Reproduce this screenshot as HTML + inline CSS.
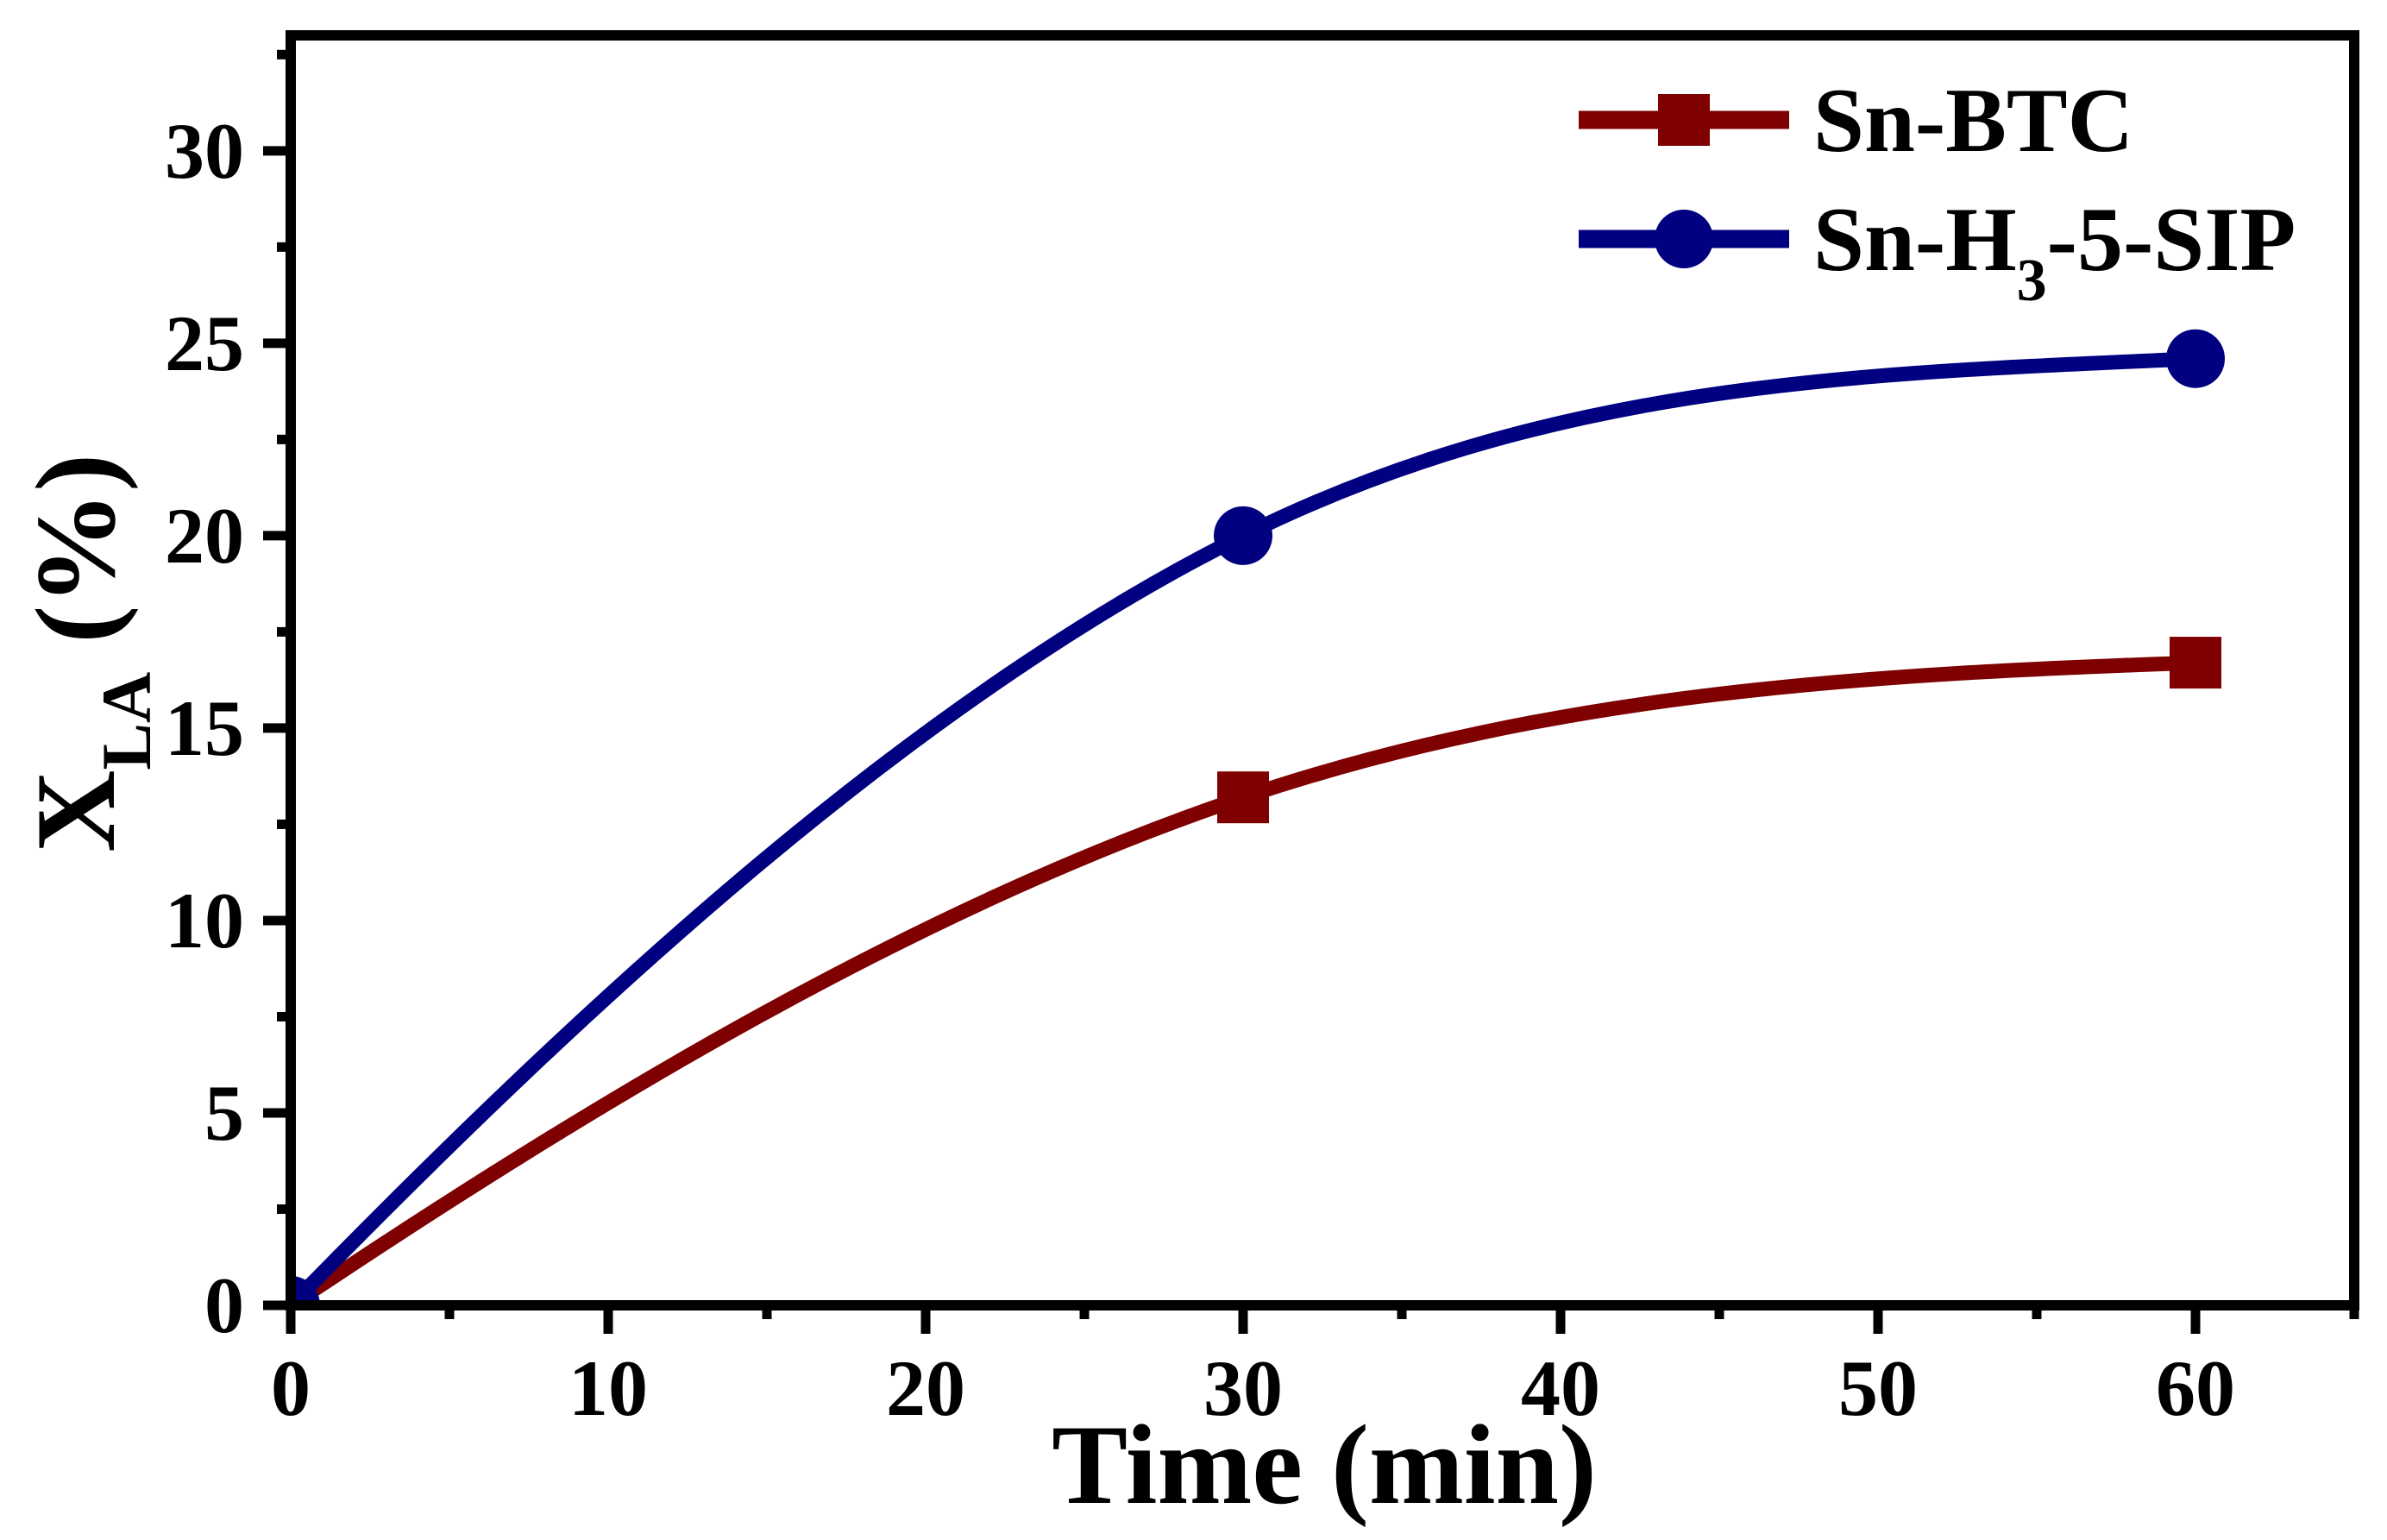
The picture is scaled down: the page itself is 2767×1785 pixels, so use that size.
<!DOCTYPE html>
<html><head><meta charset="utf-8"><style>
html,body{margin:0;padding:0;background:#fff}
svg{display:block}
text{font-family:"Liberation Serif","Times New Roman",serif;font-weight:bold;fill:#000}
</style></head><body>
<svg id="chart" width="2767" height="1785" viewBox="0 0 2767 1785" xmlns="http://www.w3.org/2000/svg">
<defs><clipPath id="plotclip"><rect x="343" y="47" width="2383" height="1460"/></clipPath></defs>
<g id="grid"></g>
<g id="series" clip-path="url(#plotclip)"></g>
<g id="axes"></g>
<text x="1535" y="1742" font-size="132" text-anchor="middle">Time (min)</text>
<text transform="translate(132,988) rotate(-90)" font-size="132">X<tspan font-size="82" dy="42">LA</tspan><tspan dy="-42"> (%)</tspan></text>
<g>
  <line x1="1830" y1="139" x2="2074" y2="139" stroke="#7f0000" stroke-width="21"/>
  <rect x="1922" y="109" width="60" height="60" fill="#7f0000"/>
  <text x="2102" y="175" font-size="106">Sn-BTC</text>
  <line x1="1830" y1="277" x2="2074" y2="277" stroke="#000080" stroke-width="21"/>
  <circle cx="1952" cy="277" r="34" fill="#000080"/>
  <text x="2102" y="313" font-size="106">Sn-H<tspan font-size="70" dy="35">3</tspan><tspan dy="-35">-5-SIP</tspan></text>
</g>
</svg>
<script>
const timeMin = [0, 30, 60];
const snBtc = [0, 13.2, 16.7];
const snSip = [0, 20.0, 24.6];
const xTicks = [0, 10, 20, 30, 40, 50, 60];
const yTicks = [0, 5, 10, 15, 20, 25, 30];

const NS = "http://www.w3.org/2000/svg";
const X0 = 337, X1 = 2729, XMIN = 0, XMAX = 65;
const Y0 = 1513, Y1 = 41, YMIN = 0, YMAX = 33;
function xs(v){ return X0 + (v - XMIN) / (XMAX - XMIN) * (X1 - X0); }
function ys(v){ return Y0 - (v - YMIN) / (YMAX - YMIN) * (Y0 - Y1); }
function mk(tag, attrs, parent){ const e = document.createElementNS(NS, tag); for (const k in attrs) e.setAttribute(k, attrs[k]); parent.appendChild(e); return e; }

const axes = document.getElementById('axes');
const series = document.getElementById('series');

const frame = mk('rect', {x: X0, y: Y1, width: X1 - X0, height: Y0 - Y1, fill: 'none', stroke: '#000', 'stroke-width': 12}, axes);



for (let v = 0; v <= 65; v += 5) {
  const major = v % 10 === 0;
  const t = mk('line', {x1: xs(v), y1: Y0, x2: xs(v), y2: Y0 + (major ? 33 : 16), stroke: '#000', 'stroke-width': 11}, axes);
  
  
}
xTicks.forEach(v => {
  const t = mk('text', {x: xs(v), y: 1640, 'font-size': 92, 'text-anchor': 'middle'}, axes);
  t.textContent = v;
  
  
});
for (let v = 0; v <= 32.5; v += 2.5) {
  const major = v % 5 === 0;
  const t = mk('line', {x1: X0, y1: ys(v), x2: X0 - (major ? 32 : 16), y2: ys(v), stroke: '#000', 'stroke-width': 11}, axes);
  
  
}
yTicks.forEach(v => {
  const t = mk('text', {x: 283, y: ys(v) + 31, 'font-size': 92, 'text-anchor': 'end'}, axes);
  t.textContent = v;
  
  
});

function curvePath(xsArr, ysArr){
  const n = xsArr.length, m = [];
  for (let i = 1; i < n - 1; i++) m[i] = (ysArr[i+1] - ysArr[i-1]) / (xsArr[i+1] - xsArr[i-1]);
  const d0 = (ysArr[1] - ysArr[0]) / (xsArr[1] - xsArr[0]);
  const dn = (ysArr[n-1] - ysArr[n-2]) / (xsArr[n-1] - xsArr[n-2]);
  m[0] = n > 2 ? 1.7 * d0 - 0.7 * m[1] : d0;
  m[n-1] = n > 2 ? Math.max(0.25 * dn, 2 * dn - m[n-2]) : dn;
  let d = 'M' + xs(xsArr[0]) + ',' + ys(ysArr[0]);
  for (let i = 0; i < n - 1; i++) {
    const h = xsArr[i+1] - xsArr[i];
    const c1x = xsArr[i] + h/3, c1y = ysArr[i] + m[i]*h/3;
    const c2x = xsArr[i+1] - h/3, c2y = ysArr[i+1] - m[i+1]*h/3;
    d += ' C' + xs(c1x) + ',' + ys(c1y) + ' ' + xs(c2x) + ',' + ys(c2y) + ' ' + xs(xsArr[i+1]) + ',' + ys(ysArr[i+1]);
  }
  return d;
}

const pb = mk('path', {d: curvePath(timeMin, snBtc), fill: 'none', stroke: '#7f0000', 'stroke-width': 17}, series);


timeMin.forEach((t, i) => {
  const r = mk('rect', {x: xs(t) - 30, y: ys(snBtc[i]) - 30, width: 60, height: 60, fill: '#7f0000'}, series);
  
  
});
const ps = mk('path', {d: curvePath(timeMin, snSip), fill: 'none', stroke: '#000080', 'stroke-width': 17}, series);


timeMin.forEach((t, i) => {
  const c = mk('circle', {cx: xs(t), cy: ys(snSip[i]), r: 34, fill: '#000080'}, series);
  
  
});
</script>
</body></html>
